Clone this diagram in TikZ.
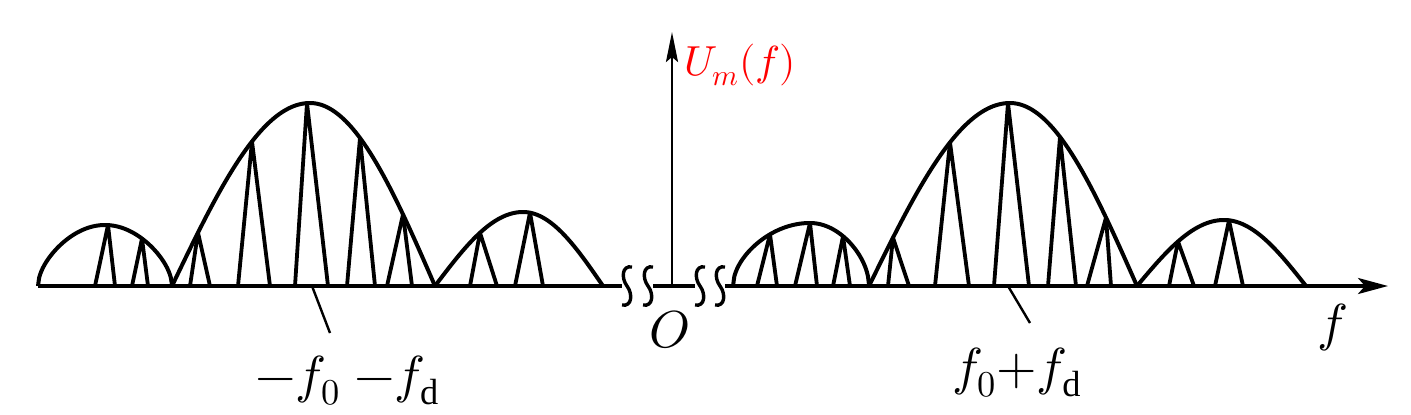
\documentclass[tikz,border=0pt]{standalone}
\usepackage{fontspec}
\usepackage{unicode-math}
\setmainfont{Liberation Serif}
\setmathfont{Latin Modern Math}
\usetikzlibrary{arrows.meta}
\def\base{286}
\tikzset{
  envel/.style={line width=4pt, line join=round},
  spike/.style={line width=3.8pt, line join=round},
  axisln/.style={line width=3.4pt},
  yaxisln/.style={line width=2.6pt},
  lead/.style={line width=2.4pt},
  lab/.style={inner sep=0pt, font=\fontsize{52}{60}\selectfont},
}
\newcommand\lobe[6]{%
  \draw[envel] plot[domain=0:1,samples=60,variable=\t]
      ({#1+(#2-#1)*\t},{\base-#4*((1-#5)*sin(90*\t)+#5*sqrt(max(0,1-(1-\t)*(1-\t))))})
    -- plot[domain=1:0,samples=60,variable=\t]
      ({#3-(#3-#2)*\t},{\base-#4*((1-#5)*sin(90*\t)+#5*sqrt(max(0,1-(1-\t)*(1-\t))))});
  \foreach \ax/\lx/\rx in {#6}{%
    \pgfmathsetmacro\tp{(\ax<#2) ? ((\ax-#1)/(#2-#1)) : ((#3-\ax)/(#3-#2))}%
    \pgfmathsetmacro\ay{\base-#4*((1-#5)*sin(90*\tp)+#5*sqrt(max(0,1-(1-\tp)*(1-\tp))))}%
    \draw[spike] (\lx,\base) -- (\ax,\ay) -- (\rx,\base);
  }%
}
\newcommand\brk[1]{%
  \draw[axisln] ({#1+5},{\base-19}) .. controls ({#1-5},{\base-21}) and ({#1-6},{\base-8}) .. (#1,\base)
     .. controls ({#1+6},{\base+8}) and ({#1+5},{\base+21}) .. ({#1-5},{\base+19});}
\begin{document}
\begin{tikzpicture}[x=1pt,y=-1pt]
\useasboundingbox (0,0) rectangle (1411,415);
% axis
\coordinate (xa) at (38,\base);
\coordinate (xb) at (622,\base);
\coordinate (xc) at (653,\base);
\coordinate (xd) at (695,\base);
\coordinate (xe) at (725,\base);
\coordinate (xend) at (1388,\base);
\coordinate (yo) at (672,\base);
\coordinate (ytop) at (672,32);
\draw[axisln] (xa) -- (xb);
\draw[axisln] (xc) -- (xd);
\draw[axisln,-{Stealth[length=30pt,width=16pt,inset=7pt]}] (xe) -- (xend);
\draw[yaxisln,-{Stealth[length=30pt,width=12pt,inset=5pt]}] (yo) -- (ytop);
\brk{627}\brk{648}\brk{700}\brk{720}
% lobes
\lobe{38}{105}{172}{61}{0.7}{108/95/115,142/132/148}
\lobe{172}{310}{435}{183}{0}{198/190/210,252/238/270,307/295/328,360/347/375,403/387/412}
\lobe{435}{523}{603}{74}{0}{480/470/497,530/515/543}
\lobe{733}{810}{869}{63}{0.8}{770/757/777,810/795/817,843/833/850}
\lobe{869}{1010}{1137}{183}{0}{893/888/909,950/935/969,1008/994/1029,1060/1048/1076,1106/1087/1111}
\lobe{1137}{1224}{1306}{66}{0}{1178/1169/1194,1229/1215/1243}
% labels
\node[inner sep=0pt, anchor=base west, text=red, font=\fontsize{42}{50}\selectfont] (um) at (684,75) {$U_m(f)$};
\node[lab, anchor=base] (o) at (669,347) {$O$};
\node[lab, anchor=base] (fax) at (1333,340) {$f$};
\node[lab, anchor=base west] (lneg) at (255,392) {$-f_0\;{-f_{\mathrm{d}}}$};
\node[lab, anchor=base west] (lpos) at (952,384) {$f_0{+}f_{\mathrm{d}}$};
\coordinate (lp1) at (312,\base);
\coordinate (lp2) at (330,333);
\coordinate (rp1) at (1008,\base);
\coordinate (rp2) at (1030,323);
\draw[lead] (lp1) -- (lp2);
\draw[lead] (rp1) -- (rp2);
\end{tikzpicture}
\end{document}
